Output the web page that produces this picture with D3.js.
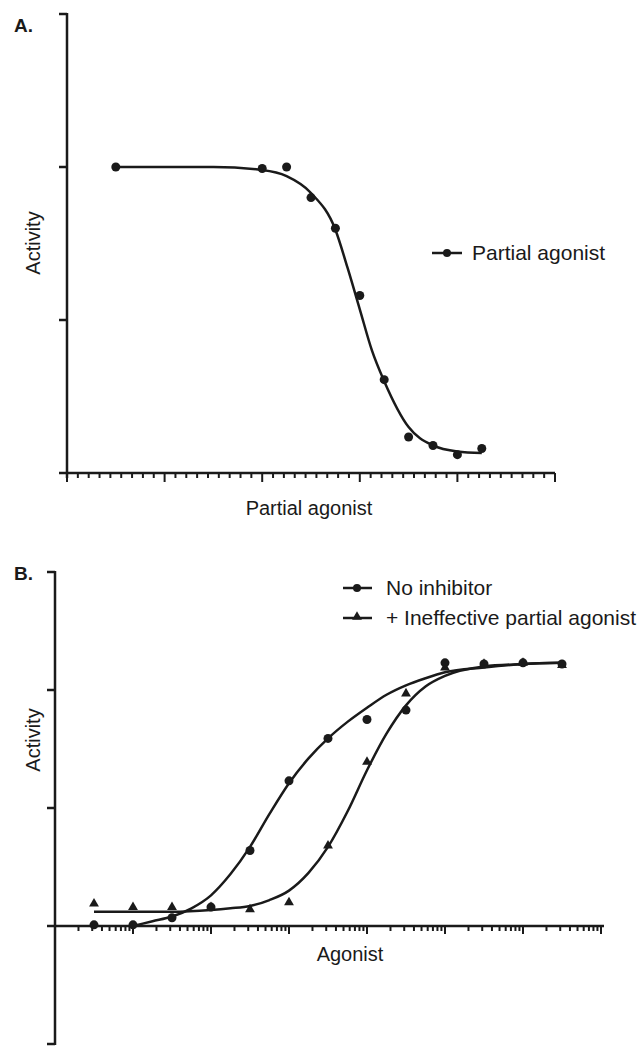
<!DOCTYPE html>
<html>
<head>
<meta charset="utf-8">
<script src="https://cdn.jsdelivr.net/npm/d3@7"></script>
<style>
  body { margin: 0; background: #fff; }
  text { font-family: "Liberation Sans", Arial, sans-serif; fill: #1a1a1a; }
</style>
</head>
<body>
<script>
// ---- panel A data (x in log units, y in activity units)
const aPointsX = [0.5, 2.0, 2.25, 2.5, 2.75, 3.0, 3.25, 3.5, 3.75, 4.0, 4.25];
const aPointsY = [2.0, 1.99, 2.0, 1.8, 1.6, 1.16, 0.61, 0.235, 0.18, 0.12, 0.16];
const aCurveX = [0.5, 1.5, 2.0, 2.25, 2.5, 2.75, 2.875, 3.0, 3.125, 3.25, 3.5, 3.75, 4.0, 4.25];
const aCurveY = [2.0, 2.0, 1.98, 1.94, 1.83, 1.59, 1.34, 1.07, 0.8, 0.6, 0.3, 0.18, 0.14, 0.13];
const aYTicks = [0, 1, 2, 3];

// ---- panel B data (x in log10 of agonist concentration)
const bPointsX = [0.5, 1, 1.5, 2, 2.5, 3, 3.5, 4, 4.5, 5, 5.5, 6, 6.5];
const noInhibitor = [0.01, 0.01, 0.07, 0.16, 0.64, 1.23, 1.59, 1.75, 1.83, 2.23, 2.22, 2.23, 2.22];
const withPartial = [0.19, 0.16, 0.16, 0.16, 0.14, 0.20, 0.68, 1.39, 1.97, 2.19, 2.22, 2.23, 2.21];
const noInhCurveX = [1.0, 1.25, 1.5, 1.75, 2.0, 2.25, 2.5, 2.75, 3.0, 3.25, 3.5, 3.75, 4.0, 4.25, 4.5, 4.75, 5.0, 5.5, 6.0, 6.5];
const noInhCurveY = [0, 0.04, 0.08, 0.15, 0.26, 0.44, 0.67, 0.95, 1.21, 1.42, 1.59, 1.73, 1.85, 1.96, 2.04, 2.10, 2.15, 2.19, 2.22, 2.23];
const partCurveX = [0.5, 1.0, 1.5, 2.0, 2.25, 2.5, 2.75, 3.0, 3.25, 3.5, 3.75, 4.0, 4.25, 4.5, 4.75, 5.0, 5.5, 6.0, 6.5];
const partCurveY = [0.12, 0.12, 0.12, 0.135, 0.15, 0.17, 0.22, 0.30, 0.45, 0.67, 0.97, 1.32, 1.63, 1.87, 2.03, 2.12, 2.20, 2.22, 2.23];
const bYTicks = [-1, 0, 1, 2, 3];

const ink = '#1a1a1a';

const svg = d3.select('body').append('svg')
    .attr('width', 644)
    .attr('height', 1046);

// ================= Panel A =================
const xA = d3.scaleLinear().domain([0, 5]).range([67, 555]);
const yA = d3.scaleLinear().domain([0, 3]).range([473, 14]);

const gA = svg.append('g');

// x axis with 9 subdivisions between majors
const aXTicks = d3.range(0, 46).map(i => i / 9);
gA.append('line')
    .attr('x1', 59).attr('x2', xA(5))
    .attr('y1', yA(0)).attr('y2', yA(0))
    .attr('stroke', ink).attr('stroke-width', 2.5);
gA.selectAll('.xtick')
    .data(aXTicks)
    .enter()
    .append('line')
        .attr('x1', d => xA(d)).attr('x2', d => xA(d))
        .attr('y1', yA(0))
        .attr('y2', (d, i) => yA(0) + (i % 9 === 0 ? 9 : 5))
        .attr('stroke', ink).attr('stroke-width', 2);

// y axis
gA.append('line')
    .attr('x1', xA(0)).attr('x2', xA(0))
    .attr('y1', yA(3) - 1).attr('y2', yA(0) + 5)
    .attr('stroke', ink).attr('stroke-width', 2.5);
gA.selectAll('.ytick')
    .data(aYTicks.slice(1))
    .enter()
    .append('line')
        .attr('x1', xA(0) - 8).attr('x2', xA(0))
        .attr('y1', d => yA(d)).attr('y2', d => yA(d))
        .attr('stroke', ink).attr('stroke-width', 2.5);

// fitted curve
const lineA = d3.line()
    .x(d => xA(d[0]))
    .y(d => yA(d[1]))
    .curve(d3.curveMonotoneX);
gA.append('path')
    .datum(aCurveX.map((x, i) => [x, aCurveY[i]]))
    .attr('d', lineA)
    .attr('fill', 'none').attr('stroke', ink).attr('stroke-width', 2.5);

gA.selectAll('.pt')
    .data(aPointsX.map((x, i) => [x, aPointsY[i]]))
    .enter()
    .append('circle')
        .attr('cx', d => xA(d[0]))
        .attr('cy', d => yA(d[1]))
        .attr('r', 4.5)
        .attr('fill', ink);

// labels
gA.append('text').attr('x', 14).attr('y', 32)
    .attr('font-size', 19).attr('font-weight', 'bold').text('A.');
gA.append('text').attr('x', 309).attr('y', 515)
    .attr('text-anchor', 'middle').attr('font-size', 20).text('Partial agonist');
gA.append('text')
    .attr('transform', 'translate(40, 243) rotate(-90)')
    .attr('text-anchor', 'middle').attr('font-size', 20).text('Activity');

// legend
gA.append('line').attr('x1', 432).attr('x2', 462).attr('y1', 253).attr('y2', 253)
    .attr('stroke', ink).attr('stroke-width', 2.5);
gA.append('circle').attr('cx', 447).attr('cy', 253).attr('r', 4).attr('fill', ink);
gA.append('text').attr('x', 472).attr('y', 260).attr('font-size', 21).text('Partial agonist');

// ================= Panel B =================
const xB = d3.scaleLog().domain([1, 1e7]).range([55, 601]);
const yB = d3.scaleLinear().domain([-1, 3]).range([1044, 572]);

const gB = svg.append('g');

const bXTicks = xB.ticks();
gB.append('line')
    .attr('x1', 47).attr('x2', 604)
    .attr('y1', yB(0)).attr('y2', yB(0))
    .attr('stroke', ink).attr('stroke-width', 2.5);
gB.selectAll('.xtick')
    .data(bXTicks.filter(d => d > 1))
    .enter()
    .append('line')
        .attr('x1', d => xB(d)).attr('x2', d => xB(d))
        .attr('y1', yB(0))
        .attr('y2', d => yB(0) + (Math.abs(Math.log10(d) - Math.round(Math.log10(d))) < 1e-9 ? 8 : 5))
        .attr('stroke', ink).attr('stroke-width', 2);

gB.append('line')
    .attr('x1', 55).attr('x2', 55)
    .attr('y1', yB(3) - 1).attr('y2', yB(-1) + 1)
    .attr('stroke', ink).attr('stroke-width', 2.5);
gB.selectAll('.ytick')
    .data(bYTicks.filter(d => d !== 0))
    .enter()
    .append('line')
        .attr('x1', 47).attr('x2', 55)
        .attr('y1', d => yB(d)).attr('y2', d => yB(d))
        .attr('stroke', ink).attr('stroke-width', 2.5);

const lineB = d3.line()
    .x(d => xB(Math.pow(10, d[0])))
    .y(d => yB(d[1]))
    .curve(d3.curveMonotoneX);
gB.append('path')
    .datum(noInhCurveX.map((x, i) => [x, noInhCurveY[i]]))
    .attr('d', lineB)
    .attr('fill', 'none').attr('stroke', ink).attr('stroke-width', 2.5);
gB.append('path')
    .datum(partCurveX.map((x, i) => [x, partCurveY[i]]))
    .attr('d', lineB)
    .attr('fill', 'none').attr('stroke', ink).attr('stroke-width', 2.5);

const tri = d3.symbol().type(d3.symbolTriangle).size(42);
gB.selectAll('.tri')
    .data(bPointsX.map((x, i) => [x, withPartial[i]]))
    .enter()
    .append('path')
        .attr('d', tri)
        .attr('transform', d => `translate(${xB(Math.pow(10, d[0]))}, ${yB(d[1])})`)
        .attr('fill', ink);
gB.selectAll('.dot')
    .data(bPointsX.map((x, i) => [x, noInhibitor[i]]))
    .enter()
    .append('circle')
        .attr('cx', d => xB(Math.pow(10, d[0])))
        .attr('cy', d => yB(d[1]))
        .attr('r', 4.5)
        .attr('fill', ink);

gB.append('text').attr('x', 14).attr('y', 580)
    .attr('font-size', 19).attr('font-weight', 'bold').text('B.');
gB.append('text').attr('x', 350).attr('y', 961)
    .attr('text-anchor', 'middle').attr('font-size', 20).text('Agonist');
gB.append('text')
    .attr('transform', 'translate(40, 740) rotate(-90)')
    .attr('text-anchor', 'middle').attr('font-size', 20).text('Activity');

// legend
gB.append('line').attr('x1', 343).attr('x2', 372).attr('y1', 588).attr('y2', 588)
    .attr('stroke', ink).attr('stroke-width', 2.5);
gB.append('circle').attr('cx', 357).attr('cy', 588).attr('r', 4).attr('fill', ink);
gB.append('text').attr('x', 386).attr('y', 595).attr('font-size', 21).text('No inhibitor');
gB.append('line').attr('x1', 343).attr('x2', 372).attr('y1', 618).attr('y2', 618)
    .attr('stroke', ink).attr('stroke-width', 2.5);
gB.append('path').attr('d', tri).attr('transform', 'translate(357, 617)').attr('fill', ink);
gB.append('text').attr('x', 386).attr('y', 625).attr('font-size', 21).text('+ Ineffective partial agonist');
</script>
</body>
</html>
